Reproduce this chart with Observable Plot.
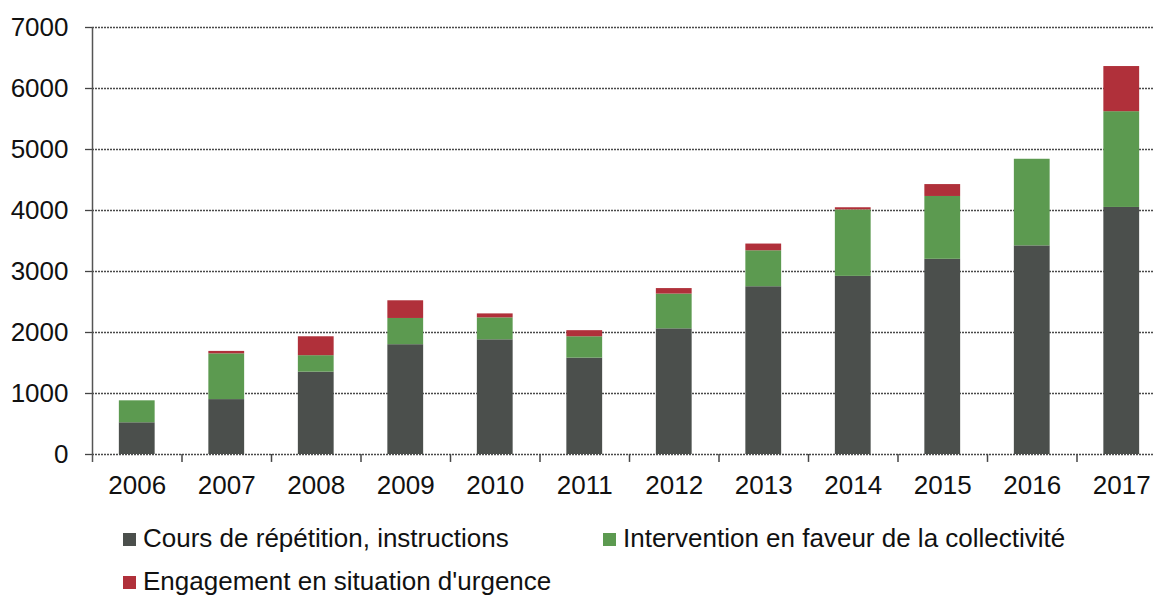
<!DOCTYPE html>
<html>
<head>
<meta charset="utf-8">
<script src="https://cdn.jsdelivr.net/npm/d3@7"></script>
<script src="https://cdn.jsdelivr.net/npm/@observablehq/plot@0.6"></script>
<style>
  html, body { margin: 0; padding: 0; background: #fff; }
  #wrap { position: relative; width: 1154px; height: 597px; overflow: hidden; font-family: "Liberation Sans", Arial, sans-serif; }
  #chart { position: absolute; left: 0; top: 0; }
  .leg { position: absolute; display: flex; align-items: center; font-size: 26px; line-height: 30px; color: #111; white-space: nowrap; }
  .sw { width: 13px; height: 13px; margin-right: 7px; margin-top: 2px; display: inline-block; }
</style>
</head>
<body>
<div id="wrap">
  <div id="chart"></div>
  <div class="leg" id="leg0" style="left:123px; top:523px;"></div>
  <div class="leg" id="leg1" style="left:603px; top:523px;"></div>
  <div class="leg" id="leg2" style="left:123px; top:566px;"></div>
</div>
<script>
const years = ["2006","2007","2008","2009","2010","2011","2012","2013","2014","2015","2016","2017"];
const seriesNames = ["Cours de répétition, instructions", "Intervention en faveur de la collectivité", "Engagement en situation d'urgence"];
const cours = [520, 900, 1350, 1800, 1880, 1580, 2060, 2750, 2920, 3200, 3420, 4050];
const intervention = [360, 750, 270, 430, 360, 350, 570, 590, 1090, 1030, 1420, 1570];
const engagement = [0, 40, 310, 290, 65, 100, 90, 110, 35, 195, 0, 740];
const yTicks = [0, 1000, 2000, 3000, 4000, 5000, 6000, 7000];
const colors = ["#4b4f4c", "#5c9a50", "#b0303a"];

const table = [];
years.forEach((y, i) => {
  table.push({year: y, series: seriesNames[0], value: cours[i]});
  table.push({year: y, series: seriesNames[1], value: intervention[i]});
  table.push({year: y, series: seriesNames[2], value: engagement[i]});
});

const x0 = 92, x1 = 1166;
const step = (x1 - x0) / years.length;

const chart = Plot.plot({
  width: 1154,
  height: 510,
  marginTop: 27,
  marginBottom: 56,
  marginLeft: 92,
  marginRight: 0,
  style: {fontFamily: "'Liberation Sans', Arial, sans-serif", fontSize: "26px", color: "#111", background: "transparent"},
  x: {domain: years, range: [x0, x1], paddingInner: 0.6, paddingOuter: 0.3, align: 0.5, round: false, label: null},
  y: {domain: [0, 7000], label: null},
  color: {domain: seriesNames, range: colors},
  marks: [
    Plot.ruleY(yTicks, {stroke: "#4a4a4a", strokeWidth: 1.3, strokeDasharray: "2,1"}),
    Plot.barY(table, {x: "year", y: "value", fill: "series", order: seriesNames}),
    Plot.axisY(yTicks, {tickSize: 7, tickPadding: 17, stroke: "#444", strokeWidth: 1.3, fontSize: 26, tickFormat: d3.format("d"), label: null}),
    Plot.axisX({tickSize: 0, tickPadding: 21, fontSize: 26, label: null}),
    Plot.ruleX([years[0]], {x: d => d, dx: -step / 2, y1: 7000, y2: -130, stroke: "#555", strokeWidth: 1.5}),
    Plot.ruleX(years.slice(1), {x: d => d, dx: -step / 2, y1: 0, y2: -130, stroke: "#444", strokeWidth: 1.5})
  ]
});
document.getElementById("chart").appendChild(chart);

seriesNames.forEach((name, i) => {
  const el = document.getElementById("leg" + i);
  const sw = document.createElement("span");
  sw.className = "sw";
  sw.style.background = colors[i];
  el.appendChild(sw);
  el.appendChild(document.createTextNode(name));
});
</script>
</body>
</html>
